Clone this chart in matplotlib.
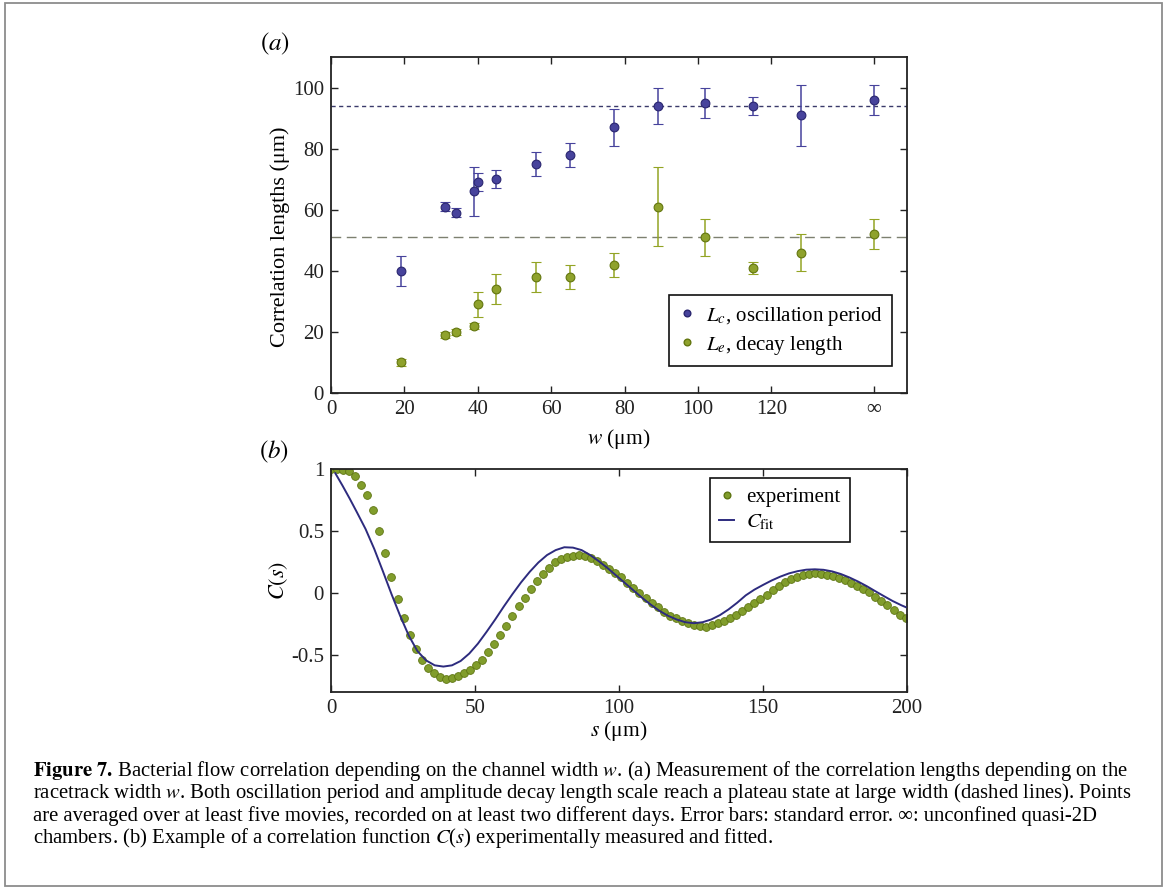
import matplotlib
matplotlib.use("Agg")
import matplotlib.pyplot as plt
import numpy as np
from matplotlib.lines import Line2D
from matplotlib.patches import Rectangle

# ---- panel (a): correlation lengths vs channel width ----
w_values = [19, 31, 34, 39, 40, 45, 56, 65, 77, 89, 102, 115, 128, np.inf]
Lc = [40, 61, 59, 66, 69, 70, 75, 78, 87, 94, 95, 94, 91, 96]
Lc_err = [5, 1.5, 1.5, 8, 3, 3, 4, 4, 6, 6, 5, 3, 10, 5]
Le = [10, 19, 20, 22, 29, 34, 38, 38, 42, 61, 51, 41, 46, 52]
Le_err = [1, 1, 1, 1, 4, 5, 5, 4, 4, 13, 6, 2, 6, 5]
Lc_plateau = 94
Le_plateau = 51
w_ticks = [0, 20, 40, 60, 80, 100, 120, np.inf]
w_ticklabels = ["0", "20", "40", "60", "80", "100", "120", "\u221e"]

# ---- panel (b): example correlation function ----
s_step = 2.1
C_exp = [1.00, 1.00, 0.995, 0.98, 0.94, 0.87, 0.79, 0.67, 0.50, 0.32,
         0.13, -0.05, -0.20, -0.34, -0.45, -0.54, -0.61, -0.65, -0.68, -0.695,
         -0.69, -0.675, -0.65, -0.62, -0.585, -0.54, -0.475, -0.41, -0.34, -0.265,
         -0.19, -0.105, -0.04, 0.03, 0.095, 0.15, 0.20, 0.245, 0.275, 0.29,
         0.30, 0.305, 0.30, 0.28, 0.255, 0.225, 0.195, 0.16, 0.125, 0.08,
         0.04, 0.0, -0.04, -0.08, -0.115, -0.155, -0.185, -0.205, -0.225, -0.245,
         -0.26, -0.27, -0.272, -0.262, -0.245, -0.225, -0.20, -0.175, -0.145, -0.115,
         -0.085, -0.05, -0.015, 0.02, 0.055, 0.085, 0.11, 0.13, 0.145, 0.155,
         0.158, 0.155, 0.145, 0.135, 0.12, 0.10, 0.08, 0.055, 0.03, 0.005,
         -0.03, -0.065, -0.10, -0.14, -0.175, -0.205]
s_exp = np.arange(len(C_exp)) * s_step

s_fit = [1.5, 4, 6.5, 9, 12, 15, 18, 21, 24, 27, 30, 33, 36, 39, 42, 45, 48, 51,
         54, 57, 60, 63, 66, 69, 72, 75, 78, 81, 84, 87, 90, 93, 96, 99, 102, 105,
         108, 111, 114, 117, 120, 123, 126, 129, 132, 135, 138, 141, 144, 147, 150,
         153, 156, 159, 162, 165, 168, 171, 174, 177, 180, 183, 186, 189, 192, 195,
         198, 199.5]
C_fit = [0.965, 0.865, 0.76, 0.65, 0.515, 0.355, 0.175, -0.01, -0.185, -0.345,
         -0.47, -0.545, -0.585, -0.595, -0.585, -0.55, -0.49, -0.41, -0.315, -0.215,
         -0.11, -0.01, 0.085, 0.17, 0.245, 0.305, 0.345, 0.368, 0.365, 0.345,
         0.305, 0.255, 0.20, 0.14, 0.08, 0.02, -0.04, -0.095, -0.145, -0.185,
         -0.215, -0.237, -0.245, -0.237, -0.215, -0.18, -0.134, -0.08, -0.02, 0.026,
         0.064, 0.10, 0.131, 0.157, 0.175, 0.187, 0.19, 0.186, 0.173, 0.152,
         0.124, 0.091, 0.054, 0.013, -0.027, -0.066, -0.10, -0.115]

caption_lines = [
    r"$\mathbf{Figure\ 7.}\,$Bacterial flow correlation depending on the channel width $w$. (a) Measurement of the correlation lengths depending on the",
    r"racetrack width $w$. Both oscillation period and amplitude decay length scale reach a plateau state at large width (dashed lines). Points",
    "are averaged over at least five movies, recorded on at least two different days. Error bars: standard error. \u221e: unconfined quasi-2D",
    r"chambers. (b) Example of a correlation function $C$($s$) experimentally measured and fitted.",
]

plt.rcParams["font.family"] = ["Liberation Serif", "DejaVu Serif"]
plt.rcParams["mathtext.fontset"] = "stix"
plt.rcParams["axes.unicode_minus"] = False

blue_face = "#47439c"
blue_edge = "#2a2670"
green_face = "#8fa22c"
green_edge = "#63760f"
fit_color = "#2d2b7e"
FS = 15

inf_pos = 148
w_pos = [w if np.isfinite(w) else inf_pos for w in w_values]
w_tick_pos = [w if np.isfinite(w) else inf_pos for w in w_ticks]

fig = plt.figure(figsize=(11.68, 8.90), dpi=100)
ax_a = fig.add_axes([0.2834, 0.5584, 0.4932, 0.3775])
ax_b = fig.add_axes([0.2834, 0.2225, 0.4932, 0.2506])

for ax in (ax_a, ax_b):
    ax.tick_params(direction="in", top=True, right=True, length=5, width=1,
                   labelsize=FS, pad=5, colors="#222222")
    for sp in ax.spines.values():
        sp.set_linewidth(1.3)
        sp.set_color("#222222")

# panel (a)
ax_a.axhline(Lc_plateau, color="#3a3a6a", lw=1.0, dashes=(3, 2.5), zorder=1)
ax_a.axhline(Le_plateau, color="#7d8070", lw=1.0, dashes=(7, 4), zorder=1)
ax_a.errorbar(w_pos, Lc, yerr=Lc_err, fmt="o", ms=6.3, mfc=blue_face, mec=blue_edge,
              mew=0.8, ecolor=blue_face, elinewidth=1.1, capsize=3.6, capthick=1.1, zorder=3)
ax_a.errorbar(w_pos, Le, yerr=Le_err, fmt="o", ms=6.3, mfc=green_face, mec=green_edge,
              mew=0.8, ecolor="#93a424", elinewidth=1.1, capsize=3.6, capthick=1.1, zorder=3)
ax_a.set_xlim(0, 157)
ax_a.set_ylim(0, 110)
ax_a.set_xticks(w_tick_pos)
ax_a.set_xticklabels(w_ticklabels)
ax_a.set_yticks([0, 20, 40, 60, 80, 100])
ax_a.set_xlabel(r"$w$ (μm)", fontsize=FS + 0.5)
ax_a.set_ylabel("Correlation lengths (μm)", fontsize=FS + 1)
ax_a.xaxis.set_label_coords(0.5, -0.10)
ax_a.yaxis.set_label_coords(-0.072, 0.465)
handles_a = [
    Line2D([], [], ls="none", marker="o", ms=4.8, mfc=blue_face, mec=blue_edge),
    Line2D([], [], ls="none", marker="o", ms=4.8, mfc=green_face, mec=green_edge),
]
leg_a = ax_a.legend(handles_a, [r"$L_c$, oscillation period", r"$L_e$, decay length"],
                    loc="lower right", bbox_to_anchor=(0.974, 0.08), borderaxespad=0,
                    fontsize=FS, frameon=True, fancybox=False, framealpha=1,
                    edgecolor="#111111", handlelength=0.8, handletextpad=0.5,
                    borderpad=0.45, labelspacing=0.3)
leg_a.get_frame().set_linewidth(1.2)

# panel (b)
ax_b.plot(s_exp, C_exp, "o", ms=5.6, mfc="#819d2c", mec="#5e7512", mew=0.6, zorder=2)
ax_b.plot(s_fit, C_fit, color=fit_color, lw=1.4, zorder=3)
ax_b.set_xlim(0, 200)
ax_b.set_ylim(-0.8, 1.0)
ax_b.set_xticks([0, 50, 100, 150, 200])
ax_b.set_yticks([-0.5, 0, 0.5, 1])
ax_b.set_yticklabels(["-0.5", "0", "0.5", "1"])
ax_b.set_xlabel(r"$s$ (μm)", fontsize=FS + 0.5)
ax_b.set_ylabel(r"$C(s)$", fontsize=FS + 1)
ax_b.xaxis.set_label_coords(0.5, -0.12)
ax_b.yaxis.set_label_coords(-0.072, 0.5)
handles_b = [
    Line2D([], [], ls="none", marker="o", ms=4.8, mfc="#819d2c", mec="#5e7512"),
    Line2D([], [], color=fit_color, lw=1.4),
]
leg_b = ax_b.legend(handles_b, ["experiment", r"$C_{\mathrm{fit}}$"], loc="upper right",
                    bbox_to_anchor=(0.901, 0.96), borderaxespad=0, fontsize=FS,
                    frameon=True, fancybox=False, framealpha=1, edgecolor="#111111",
                    handlelength=0.7, handletextpad=0.6, borderpad=0.45, labelspacing=0.3)
leg_b.get_frame().set_linewidth(1.2)

fig.text(275 / 1168, 1 - 44 / 890, r"$(a)$", ha="center", va="center", fontsize=18)
fig.text(274 / 1168, 1 - 452 / 890, r"$(b)$", ha="center", va="center", fontsize=18)

# caption, sized so the full lines span the text width
cap_y = [771, 793, 816, 838]
cap_texts = [fig.text(33 / 1168, 1 - y / 890, line, ha="left", va="center", fontsize=13)
             for line, y in zip(caption_lines, cap_y)]
fig.canvas.draw()
renderer = fig.canvas.get_renderer()
widths = [t.get_window_extent(renderer).width for t in cap_texts[:3]]
scale = 1087 / np.mean(widths)
for t in cap_texts:
    t.set_fontsize(13 * scale)

fig.add_artist(Rectangle((5 / 1168, 4 / 890), 1157 / 1168, 883 / 890,
                         transform=fig.transFigure, fill=False, ec="#8c8c8c", lw=1.3))

fig.savefig("out.png", dpi=100)
